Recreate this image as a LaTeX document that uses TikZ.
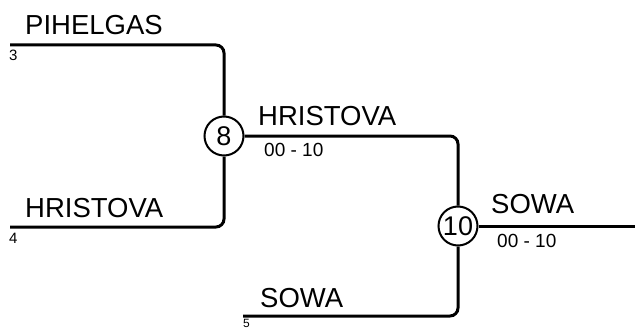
\documentclass[tikz,border=0pt]{standalone}
\usepackage{fontspec}
\setmainfont{Liberation Sans}
\usetikzlibrary{positioning}

\begin{document}
\begin{tikzpicture}[x=1pt,y=-1pt,
	seed/.style={circle,draw,line width=2pt,minimum size=39pt,inner sep=0pt,font=\fontsize{27}{27}\selectfont},
	player/.style={anchor=base west,inner sep=0pt,font=\fontsize{27.5}{27.5}\selectfont},
	score/.style={anchor=base west,inner sep=0pt,font=\fontsize{19}{19}\selectfont},
	slot/.style={anchor=base west,inner sep=0pt,font=\fontsize{15}{15}\selectfont},
	bracket/.style={line width=3pt,rounded corners=8pt}]
	\useasboundingbox (0,0) rectangle (635,329);
	% matches
	\node[seed] (m8) at (224,136) {8};
	\node[seed] (m10) at (458,226) {10};
	\coordinate (e3) at (10,45);
	\coordinate (e4) at (10,227);
	\coordinate (e5) at (243,316);
	\coordinate (fin) at (635,226);
	
	\draw[bracket] (e3) -| (m8.north);
	\draw[bracket] (e4) -| (m8.south);
	\draw[bracket] (m8.east) -| (m10.north);
	\draw[bracket] (e5) -| (m10.south);
	\draw[bracket] (m10.east) -- (fin);
	
	% names and results
	\node[player] (n3) at (25,35) {PIHELGAS};
	\node[player] (n4) at (25,217) {HRISTOVA};
	\node[player] (w8) at (258,125) {HRISTOVA};
	\node[player] (n5) at (260,307) {SOWA};
	\node[player] (w10) at (491,213) {SOWA};
	\node[score] (s8) at (264,157) {00 - 10};
	\node[score] (s10) at (497,247) {00 - 10};
	\node[slot] (k3) at (9,61) {3};
	\node[slot] (k4) at (9,243) {4};
	\node[slot,font=\fontsize{12}{12}\selectfont] (k5) at (243,327) {5};
\end{tikzpicture}
\end{document}
